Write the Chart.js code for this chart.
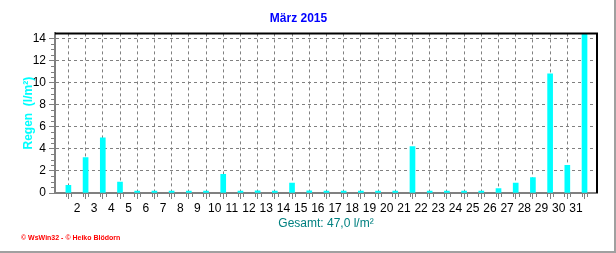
<!DOCTYPE html>
<html>
<head>
<meta charset="utf-8">
<script src="https://cdn.jsdelivr.net/npm/chart.js@4"></script>
<style>
  body { margin: 0; background: #fff; }
  #wrap {
    position: relative;
    width: 614px;
    height: 251px;
    border-right: 2px solid #a0a0a0;
    border-bottom: 2px solid #a0a0a0;
  }
  #credit {
    position: absolute;
    left: 21px;
    top: 234px;
    font: bold 7px "Liberation Sans", Arial, sans-serif;
    color: #ff0000;
    white-space: nowrap;
  }
</style>
</head>
<body>
<div id="wrap">
  <canvas id="rainChart" width="614" height="251"></canvas>
  <div id="credit">© WsWin32 - © Heiko Blödorn</div>
</div>
<script>
// day of month
const days = [1, 2, 3, 4, 5, 6, 7, 8, 9, 10, 11, 12, 13, 14, 15, 16,
  17, 18, 19, 20, 21, 22, 23, 24, 25, 26, 27, 28, 29, 30, 31];
// rain in l/m² per day
const rain = [0.7, 3.2, 5.0, 1.0, 0, 0, 0, 0, 0, 1.7, 0, 0.2, 0, 0.9, 0.2, 0,
  0, 0, 0, 0, 4.2, 0, 0, 0, 0, 0.4, 0.9, 1.4, 10.8, 2.5, 14.4];
const yTicks = [0, 2, 4, 6, 8, 10, 12, 14];
const xTickLabels = ["2", "3", "4", "5", "6", "7", "8", "9", "10", "11", "12", "13",
  "14", "15", "16", "17", "18", "19", "20", "21", "22", "23", "24", "25", "26",
  "27", "28", "29", "30", "31"];

const gridGray = "#808080";

// top/right frame and the small minor ticks
const frame = {
  id: "frame",
  afterDraw(chart) {
    const { ctx, chartArea: a, scales } = chart;
    ctx.save();
    ctx.setLineDash([]);
    ctx.strokeStyle = "#000";
    ctx.lineWidth = 2;
    ctx.beginPath();
    ctx.moveTo(a.left, a.top);
    ctx.lineTo(a.right, a.top);
    ctx.lineTo(a.right, a.bottom);
    ctx.stroke();

    ctx.strokeStyle = gridGray;
    ctx.lineWidth = 1;
    ctx.beginPath();
    for (let v = 0.5; v < 14.4; v += 0.5) {
      if (v % 2 === 0) continue;
      const y = Math.round(scales.y.getPixelForValue(v)) + 0.5;
      ctx.moveTo(a.left - 4, y);
      ctx.lineTo(a.left - 1, y);
    }
    for (let i = 1; i < 95; i++) {
      if (i % 3 === 0) continue;
      const v = 0.5 + i / 3;
      if (v <= scales.x.min || v >= scales.x.max) continue;
      const x = Math.round(scales.x.getPixelForValue(v)) + 0.5;
      ctx.moveTo(x, a.bottom + 1);
      ctx.lineTo(x, a.bottom + 4);
    }
    ctx.stroke();
    ctx.restore();
  }
};

const ctx = document.getElementById("rainChart").getContext("2d");
new Chart(ctx, {
  type: "bar",
  data: {
    datasets: [{
      data: days.map((d, i) => ({ x: d, y: rain[i] })),
      backgroundColor: "#00ffff",
      borderWidth: 0,
      barThickness: 5,
      minBarLength: 2
    }]
  },
  options: {
    responsive: false,
    animation: false,
    layout: { padding: { left: 0, right: 17, top: 0, bottom: 20 } },
    plugins: {
      legend: { display: false },
      tooltip: { enabled: false },
      title: {
        display: true,
        text: "März 2015",
        color: "#0000ff",
        font: { family: "'Liberation Sans', Arial", size: 12, weight: "bold" },
        padding: { top: 11, bottom: 8 }
      }
    },
    scales: {
      x: {
        type: "linear",
        min: 0.747,
        max: 31.2,
        afterBuildTicks: (s) => {
          s.ticks = xTickLabels.map((l, i) => ({ value: days[i] + 0.5 }));
        },
        afterFit: (s) => { s.height = 38; },
        ticks: {
          color: "#000",
          font: { family: "'Liberation Sans', Arial", size: 12 },
          padding: 2,
          maxRotation: 0,
          autoSkip: false,
          callback: (v, i) => xTickLabels[i]
        },
        grid: {
          color: gridGray,
          tickLength: 6,
          tickColor: gridGray,
          tickBorderDash: []
        },
        border: { color: gridGray, width: 2, dash: [3, 3] },
        title: {
          display: true,
          text: "Gesamt: 47,0 l/m²",
          color: "#008080",
          font: { family: "'Liberation Sans', Arial", size: 12 },
          padding: { top: 2, bottom: 0 }
        }
      },
      y: {
        min: 0,
        max: 14.45,
        afterBuildTicks: (s) => {
          s.ticks = yTicks.map((v) => ({ value: v }));
        },
        afterFit: (s) => { s.width = 55; },
        ticks: {
          color: "#000",
          font: { family: "'Liberation Sans', Arial", size: 12 },
          padding: 3
        },
        grid: {
          color: gridGray,
          tickLength: 6,
          tickColor: gridGray,
          tickBorderDash: []
        },
        border: { color: gridGray, width: 2, dash: [3, 3] },
        title: {
          display: true,
          text: "Regen  (l/m²)",
          color: "#00ffff",
          font: { family: "'Liberation Sans', Arial", size: 12, weight: "bold" },
          padding: { top: 21, bottom: 0 }
        }
      }
    }
  },
  plugins: [frame]
});
</script>
</body>
</html>
